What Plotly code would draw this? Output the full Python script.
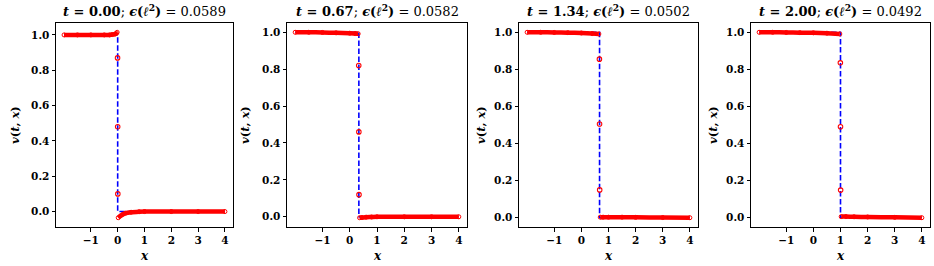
import plotly.graph_objects as go

# ---------------- data ----------------
times = ["0.00", "0.67", "1.34", "2.00"]
errors = ["0.0589", "0.0582", "0.0502", "0.0492"]
shock_pos = [0.0, 0.335, 0.67, 1.0]
x_min, x_max = -2.0, 4.0
u_left, u_right = 1.0, 0.0

# predicted solution: left plateau, shock points, right plateau
left_x = [
    [-2.0, -1.5, -1.0, -0.5, -0.3, -0.2, -0.1, -0.05, -0.02],
    [-2.0, -1.5, -1.0, -0.5, 0.0, 0.2, 0.31],
    [-2.0, -1.5, -1.0, -0.5, 0.0, 0.4, 0.645],
    [-2.0, -1.5, -1.0, -0.5, 0.0, 0.5, 0.975],
]
left_y = [
    [1.0, 1.0, 1.0, 1.0, 1.0, 1.002, 1.005, 1.009, 1.015],
    [1.0, 1.0, 0.999, 0.997, 0.995, 0.993, 0.992],
    [1.0, 1.0, 0.999, 0.998, 0.996, 0.993, 0.991],
    [1.0, 1.0, 0.999, 0.998, 0.997, 0.995, 0.991],
]
shock_x = [
    [-0.005, 0.0, 0.005],
    [0.33, 0.335, 0.34],
    [0.665, 0.67, 0.675],
    [0.995, 1.0, 1.005],
]
shock_y = [
    [0.87, 0.48, 0.10],
    [0.82, 0.46, 0.12],
    [0.855, 0.505, 0.15],
    [0.835, 0.49, 0.148],
]
right_x = [
    [0.02, 0.1, 0.2, 0.3, 0.5, 0.8, 1.0, 2.0, 3.0, 4.0],
    [0.36, 0.45, 0.6, 0.8, 1.0, 2.0, 3.0, 4.0],
    [0.695, 0.8, 1.0, 1.5, 2.0, 3.0, 4.0],
    [1.025, 1.2, 1.5, 2.0, 3.0, 4.0],
]
right_y = [
    [-0.035, -0.025, -0.015, -0.009, -0.004, -0.001, 0.0, 0.0, 0.0, 0.0],
    [-0.005, -0.004, -0.002, -0.001, 0.0, 0.0, 0.0, 0.0],
    [0.003, 0.003, 0.003, 0.003, 0.002, 0.001, 0.0],
    [0.005, 0.005, 0.004, 0.003, 0.001, -0.001],
]

x_ticks = [-1, 0, 1, 2, 3, 4]
y_ticks = [0.0, 0.2, 0.4, 0.6, 0.8, 1.0]

# ---------------- layout ----------------
W, H = 934, 266
panel_px = [(56, 233), (287, 467), (519, 698), (751, 930)]
ylab_off = [41, 42, 38, 38]
plot_top, plot_bot = 23, 227
FONT = "DejaVu Serif"
RED = "#ff0000"
BLUE = "#0000ff"

fig = go.Figure()
annotations = []
for i in range(4):
    xa = "x" if i == 0 else f"x{i+1}"
    ya = "y" if i == 0 else f"y{i+1}"
    s = shock_pos[i]
    # exact solution (dashed blue)
    fig.add_trace(go.Scatter(
        x=[x_min, s, s, x_max], y=[u_left, u_left, u_right, u_right],
        mode="lines", line=dict(color=BLUE, width=1.6, dash="5.5px,2.5px"),
        xaxis=xa, yaxis=ya, showlegend=False, hoverinfo="skip"))
    # predicted plateaus
    for xs, ys in ((left_x[i], left_y[i]), (right_x[i], right_y[i])):
        fig.add_trace(go.Scatter(
            x=xs, y=ys, mode="lines+markers",
            line=dict(color=RED, width=4.5, shape="spline", smoothing=0.6),
            marker=dict(symbol="circle-open", size=4, color=RED, line=dict(width=1, color=RED)),
            xaxis=xa, yaxis=ya, showlegend=False, hoverinfo="skip"))
    # predicted points across the shock
    fig.add_trace(go.Scatter(
        x=shock_x[i], y=shock_y[i], mode="markers",
        marker=dict(symbol="circle-open", size=4.5, color=RED, line=dict(width=1.1, color=RED)),
        xaxis=xa, yaxis=ya, showlegend=False, hoverinfo="skip"))

    all_y = left_y[i] + shock_y[i] + right_y[i] + [u_left, u_right]
    ylo, yhi = min(all_y), max(all_y)
    m = 0.05 * (yhi - ylo)
    xm = 0.05 * (x_max - x_min)
    l, r = panel_px[i]
    axis_common = dict(showline=True, mirror=True, linecolor="black", linewidth=1,
                       ticks="outside", ticklen=3.5, tickwidth=1, tickcolor="black",
                       showgrid=False, zeroline=False,
                       tickfont=dict(family=FONT, size=10.5, color="black", weight="bold"))
    fig.layout[("xaxis" if i == 0 else f"xaxis{i+1}")] = dict(
        domain=[l / W, r / W], anchor=ya, range=[x_min - xm, x_max + xm],
        tickvals=x_ticks, ticktext=[("\u2212" + str(-v)) if v < 0 else str(v) for v in x_ticks],
        **axis_common)
    fig.layout[("yaxis" if i == 0 else f"yaxis{i+1}")] = dict(
        domain=[1 - plot_bot / H, 1 - plot_top / H], anchor=xa, range=[ylo - m, yhi + m],
        tickvals=y_ticks, ticktext=[f"{v:.1f}" for v in y_ticks], **axis_common)

    cx = (l + r) / 2 / W
    annotations.append(dict(
        x=cx, y=1 - 10 / H, xref="paper", yref="paper", showarrow=False,
        xanchor="center", yanchor="middle",
        text=f"<b><i>t</i> = {times[i]}</b>; <b><i>\u03f5</i>(<i>\u2113</i><sup>2</sup>)</b> = {errors[i]}",
        font=dict(family=FONT, size=13, color="black")))
    annotations.append(dict(
        x=cx, y=1 - 256 / H, xref="paper", yref="paper", showarrow=False,
        xanchor="center", yanchor="middle", text="<b><i>x</i></b>",
        font=dict(family=FONT, size=12, color="black")))
    annotations.append(dict(
        x=(l - ylab_off[i]) / W, y=1 - 125 / H, xref="paper", yref="paper", showarrow=False,
        xanchor="center", yanchor="middle", textangle=-90, text="<b><i>v</i>(<i>t</i>, <i>x</i>)</b>",
        font=dict(family=FONT, size=11.5, color="black")))

fig.update_layout(width=W, height=H, margin=dict(l=0, r=0, t=0, b=0),
                  paper_bgcolor="white", plot_bgcolor="white",
                  annotations=annotations)
fig.write_html("out.html", config={"displayModeBar": False},
               post_script="document.body.style.margin='0px';")
